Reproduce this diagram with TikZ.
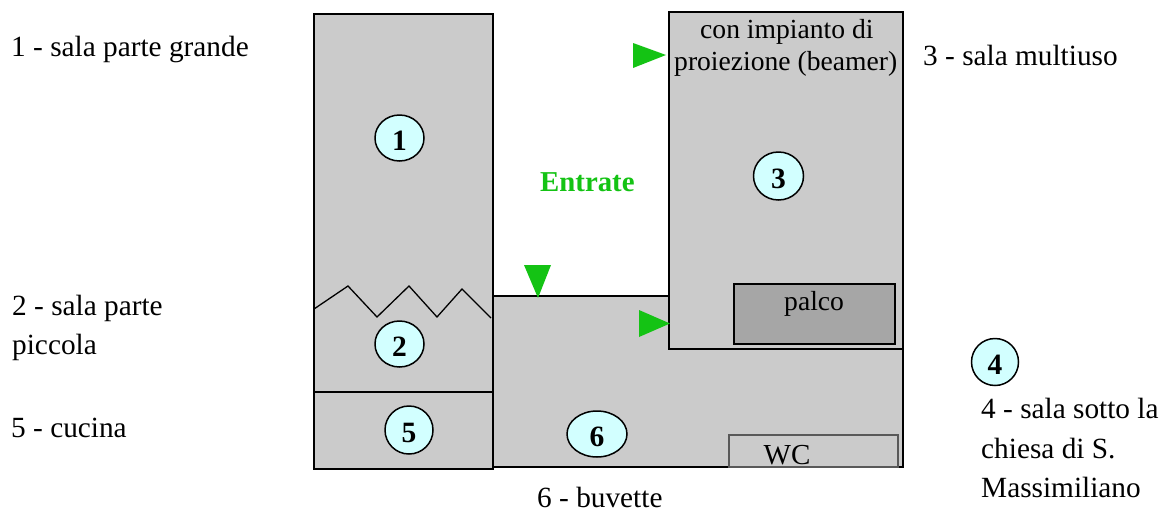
\documentclass[tikz,border=0pt]{standalone}
\usepackage{fontspec}
\setmainfont{Liberation Serif}
\usetikzlibrary{shapes.geometric}
\definecolor{roomgray}{HTML}{CBCBCB}
\definecolor{stagegray}{HTML}{A6A6A6}
\definecolor{badgecyan}{HTML}{D2FFFF}
\definecolor{entrygreen}{HTML}{14C314}
\newcommand{\dgt}[1]{\raisebox{-3pt}[\height][0pt]{#1}}
\begin{document}
\begin{tikzpicture}[x=1pt,y=-1pt,
  room/.style={draw=black,fill=roomgray,line width=1.7pt,line join=miter},
  badge/.style={ellipse,draw=black,fill=badgecyan,line width=1.5pt,inner sep=0pt,font=\fontsize{29.5}{29}\selectfont\bfseries},
  lbl/.style={inner sep=0pt,anchor=base west,font=\fontsize{29.3}{33}\selectfont,text=black},
  inlbl/.style={inner sep=0pt,anchor=base west,font=\fontsize{27.6}{33}\selectfont,text=black},
  entry/.style={fill=entrygreen,draw=none}]
\useasboundingbox (0,0) rectangle (1162,509);
\fill[white] (0,0) rectangle (1162,509);
% rooms
\draw[room] (493,296) rectangle (903,467);
\draw[room] (314,14) rectangle (493,392);
\draw[room] (314,392) rectangle (493,469);
\draw[room] (669,12) rectangle (903,349);
\draw[room,fill=stagegray] (734,284) rectangle (895,344);
\draw[room,draw=black!65,line width=1.4pt] (729,435) rectangle (898,467);
% zigzag
\draw[black,line width=1.3pt,line join=miter] (314,309)--(348,286)--(377,317)--(409,286)--(437,317)--(462,289)--(491,318);
% entrances
\fill[entry] (524,265)--(551,265)--(538,298)--cycle;
\fill[entry] (639,310)--(639,337)--(670,323.5)--cycle;
\fill[entry] (633,43)--(633,68)--(666,55)--cycle;
% badges
\node[badge,minimum width=49pt,minimum height=46pt] (b1) at (399.5,138) {\dgt{1}};
\node[badge,minimum width=49pt,minimum height=46pt] (b2) at (399.5,344) {\dgt{2}};
\node[badge,minimum width=48pt,minimum height=48pt] (b5) at (409,430) {\dgt{5}};
\node[badge,minimum width=60pt,minimum height=46pt] (b6) at (597,434) {\dgt{6}};
\node[badge,minimum width=50pt,minimum height=48pt] (b3) at (778.5,176) {\dgt{3}};
\node[badge,minimum width=47pt,minimum height=47pt] (b4) at (995,362) {\dgt{4}};
% texts
\node[lbl] (t1) at (11,56) {1 - sala parte grande};
\node[lbl] (t2a) at (12,315) {2 - sala parte};
\node[lbl] (t2b) at (12,354) {piccola};
\node[lbl] (t5) at (11,437) {5 - cucina};
\node[lbl] (t6) at (537,507.5) {6 - buvette};
\node[lbl] (t3) at (923,65) {3 - sala multiuso};
\node[lbl] (t4a) at (981,418) {4 - sala sotto la};
\node[lbl] (t4b) at (981,458) {chiesa di S.};
\node[lbl] (t4c) at (981,497) {Massimiliano};
\node[inlbl] (c1) at (700,38) {con impianto di};
\node[inlbl] (c2) at (674,70.5) {proiezione (beamer)};
\node[inlbl] (pal) at (784,310.5) {palco};
\node[inlbl,font=\fontsize{29}{33}\selectfont] (wc) at (763.5,464) {WC};
\node[lbl,text=entrygreen,font=\fontsize{28.8}{33}\selectfont\bfseries] (ent) at (540,191) {Entrate};
\end{tikzpicture}
\end{document}
